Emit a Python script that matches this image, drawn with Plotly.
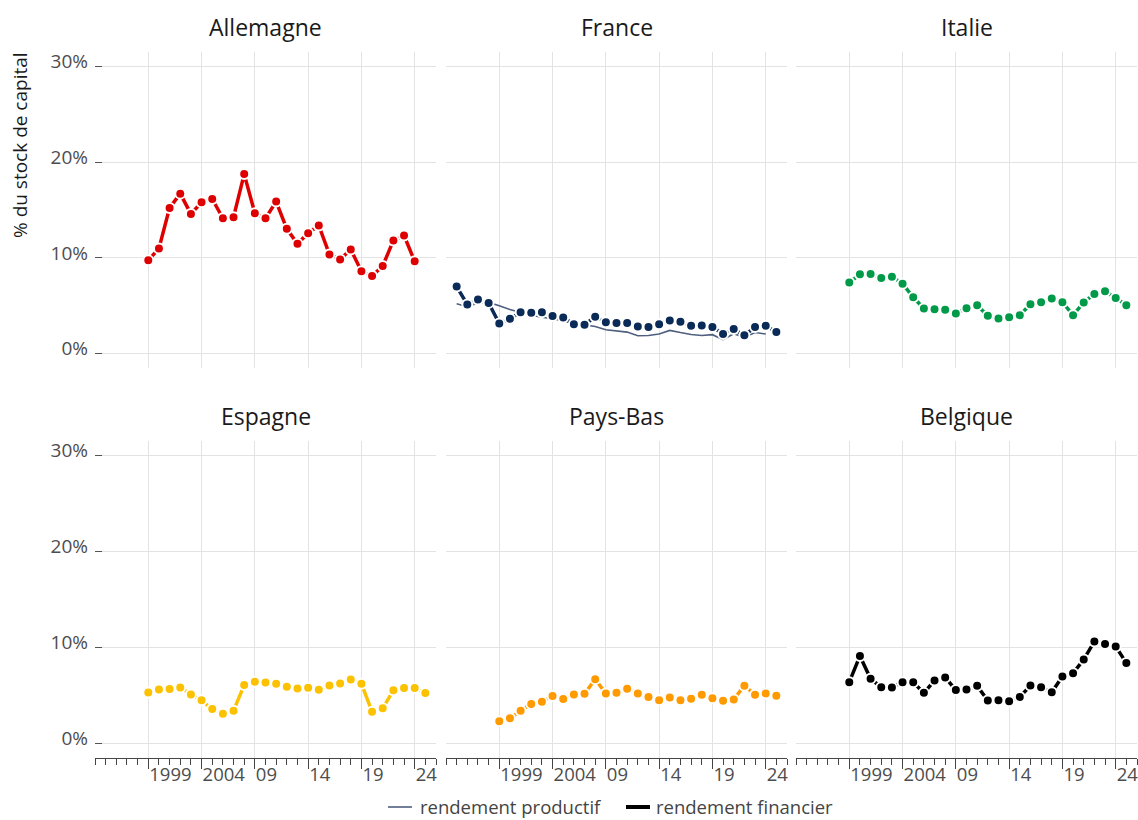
import plotly.graph_objects as go

# ---------------- data (% of capital stock) ----------------
years_de = list(range(1999, 2025))
allemagne = [9.74, 10.99, 15.22, 16.71, 14.59, 15.81, 16.15, 14.14, 14.25, 18.75,
             14.66, 14.14, 15.88, 13.03, 11.47, 12.58, 13.38, 10.36, 9.84, 10.88,
             8.60, 8.11, 9.15, 11.82, 12.34, 9.64]

years_fr = list(range(1995, 2026))
france_fin = [7.0, 5.13, 5.65, 5.30, 3.15, 3.64, 4.33, 4.26, 4.33, 3.92,
              3.78, 3.08, 3.02, 3.85, 3.29, 3.19, 3.19, 2.84, 2.77, 3.08,
              3.47, 3.33, 2.91, 2.95, 2.77, 2.05, 2.56, 1.91, 2.77, 2.91, 2.25]

years_fr_prod = list(range(1995, 2025))
france_prod = [5.2, 4.9, 5.3, 5.35, 5.0, 4.6, 4.3, 4.0, 3.8, 3.65,
               3.4, 3.15, 3.0, 2.84, 2.5, 2.4, 2.25, 1.87, 1.9, 2.05,
               2.43, 2.2, 2.0, 1.9, 1.98, 1.46, 2.08, 1.7, 2.2, 2.05]

years_std = list(range(1999, 2026))
italie = [7.42, 8.28, 8.32, 7.90, 8.04, 7.31, 5.89, 4.71, 4.64, 4.58,
          4.19, 4.75, 5.06, 3.95, 3.67, 3.81, 4.02, 5.16, 5.37, 5.75,
          5.37, 4.02, 5.34, 6.24, 6.52, 5.82, 5.06]
espagne = [5.33, 5.64, 5.67, 5.85, 5.12, 4.50, 3.60, 3.11, 3.43, 6.09,
           6.44, 6.37, 6.23, 5.92, 5.74, 5.81, 5.61, 6.06, 6.26, 6.68,
           6.23, 3.32, 3.67, 5.54, 5.78, 5.78, 5.26]
pays_bas = [2.32, 2.63, 3.43, 4.12, 4.36, 4.95, 4.64, 5.12, 5.19, 6.71,
            5.22, 5.29, 5.71, 5.22, 4.84, 4.50, 4.81, 4.50, 4.67, 5.09,
            4.71, 4.46, 4.60, 6.02, 5.09, 5.22, 4.98]
belgique = [6.39, 9.13, 6.74, 5.87, 5.83, 6.39, 6.39, 5.28, 6.56, 6.88,
            5.59, 5.63, 6.01, 4.48, 4.51, 4.41, 4.86, 6.04, 5.87, 5.35,
            6.98, 7.33, 8.75, 10.63, 10.38, 10.10, 8.40]

countries = ["Allemagne", "France", "Italie", "Espagne", "Pays-Bas", "Belgique"]
colors = ["#de0000", "#0a2a57", "#009a49", "#fcc200", "#ff9a00", "#000000"]
series_x = [years_de, years_fr, years_std, years_std, years_std, years_std]
series_y = [allemagne, france_fin, italie, espagne, pays_bas, belgique]

tick_vals = [1999, 2004, 2009, 2014, 2019, 2024]
tick_text = ["1999", "2004", "09", "14", "19", "24"]
y_vals = [0, 10, 20, 30]
y_text = ["0%", "10%", "20%", "30%"]

legend_labels = ["rendement productif", "rendement financier"]
legend_colors = ["#4f5f80", "#000000"]

# ---------------- layout geometry ----------------
FONT = "Open Sans"
W, H = 1138, 820
ML, MR, MT, MB = 95, 1, 52, 62
pw, ph = W - ML - MR, H - MT - MB
xdoms = [[0, 341 / pw], [351 / pw, 692 / pw], [701 / pw, 1.0]]
ydoms = [[(758 - 368) / ph, 1.0], [0.0, (758 - 441) / ph]]


def px_x(p):
    return (p - ML) / pw


def px_y(p):
    return (H - MB - p) / ph


fig = go.Figure()

# France productive return (thin line under)
fig.add_trace(go.Scatter(
    x=years_fr_prod, y=france_prod, mode="lines", name=legend_labels[0],
    line=dict(color=legend_colors[0], width=1.6),
    xaxis="x2", yaxis="y2", showlegend=False, hoverinfo="skip"))

for i, (name, col, xs, ys) in enumerate(zip(countries, colors, series_x, series_y)):
    ax = "" if i == 0 else str(i + 1)
    fig.add_trace(go.Scatter(
        x=xs, y=ys, mode="lines+markers", name=name,
        line=dict(color=col, width=3.5),
        marker=dict(color=col, size=10, line=dict(color="white", width=2)),
        xaxis="x" + ax, yaxis="y" + ax, showlegend=False))

layout = dict(
    width=W, height=H,
    margin=dict(l=ML, r=MR, t=MT, b=MB, autoexpand=False),
    paper_bgcolor="white", plot_bgcolor="white",
    font=dict(family=FONT, size=18, color="#4d4d4d"),
    showlegend=False,
)

annotations = []
shapes = []
for i, name in enumerate(countries):
    r, c = divmod(i, 3)
    ax = "" if i == 0 else str(i + 1)
    bottom = r == 1
    layout["xaxis" + ax] = dict(
        domain=xdoms[c], anchor="y" + ax, range=[1994.0, 2026.0],
        tickmode="array", tickvals=tick_vals, ticktext=tick_text,
        showticklabels=bottom, ticklabelposition="outside right",
        ticklabeloverflow="allow", automargin=False,
        ticks="outside" if bottom else "", ticklen=10, tickcolor="#444444",
        showline=bottom, linecolor="#444444", linewidth=1,
        showgrid=True, gridcolor="#e3e3e3", gridwidth=1, zeroline=False,
        tickfont=dict(size=18.5, color="#4d4d4d"),
        minor=dict(tickmode="linear", tick0=1994, dtick=1,
                   ticks="outside" if bottom else "", ticklen=6,
                   tickcolor="#444444", showgrid=False),
    )
    layout["yaxis" + ax] = dict(
        domain=ydoms[r], anchor="x" + ax, range=[-1.5, 31.5],
        tickmode="array", tickvals=y_vals, ticktext=y_text,
        showticklabels=(c == 0), ticks="inside" if c == 0 else "",
        ticklen=7, tickcolor="#555555", ticklabelposition="outside",
        ticklabelshift=-5, ticklabelstandoff=6, automargin=False,
        showgrid=True, gridcolor="#e3e3e3", gridwidth=1, zeroline=False,
        showline=False, tickfont=dict(size=19, color="#4d4d4d"),
    )
    title_y = px_y(27) if r == 0 else px_y(416)
    annotations.append(dict(
        text=name, x=(xdoms[c][0] + xdoms[c][1]) / 2, y=title_y,
        xref="paper", yref="paper", xanchor="center", yanchor="middle",
        showarrow=False, font=dict(size=23, color="#1a1a1a", family=FONT)))

annotations.append(dict(
    text="% du stock de capital", textangle=-90,
    x=px_x(20), y=px_y(145), xref="paper", yref="paper",
    xanchor="center", yanchor="middle", showarrow=False,
    font=dict(size=19, color="#1a1a1a", family=FONT)))

# legend (drawn as symbol line + text)
leg_sym_x = [(388, 412), (626, 650)]
leg_txt_x = [419, 655]
leg_widths = [1.6, 4]
LEG_Y = 806
for lab, col, (x0, x1), tx, lw in zip(legend_labels, legend_colors, leg_sym_x, leg_txt_x, leg_widths):
    shapes.append(dict(type="line", xref="paper", yref="paper",
                       x0=px_x(x0), x1=px_x(x1), y0=px_y(LEG_Y + 1), y1=px_y(LEG_Y + 1),
                       line=dict(color=col, width=lw)))
    annotations.append(dict(
        text=lab, x=px_x(tx), y=px_y(LEG_Y), xref="paper", yref="paper",
        xanchor="left", yanchor="middle", showarrow=False, borderpad=0,
        font=dict(size=18.5, color="#444444", family=FONT)))

layout["annotations"] = annotations
layout["shapes"] = shapes
fig.update_layout(**layout)

fig.write_html(
    "out.html",
    config={"displayModeBar": False},
    post_script="document.body.style.margin='0';document.body.style.overflow='hidden';",
)
